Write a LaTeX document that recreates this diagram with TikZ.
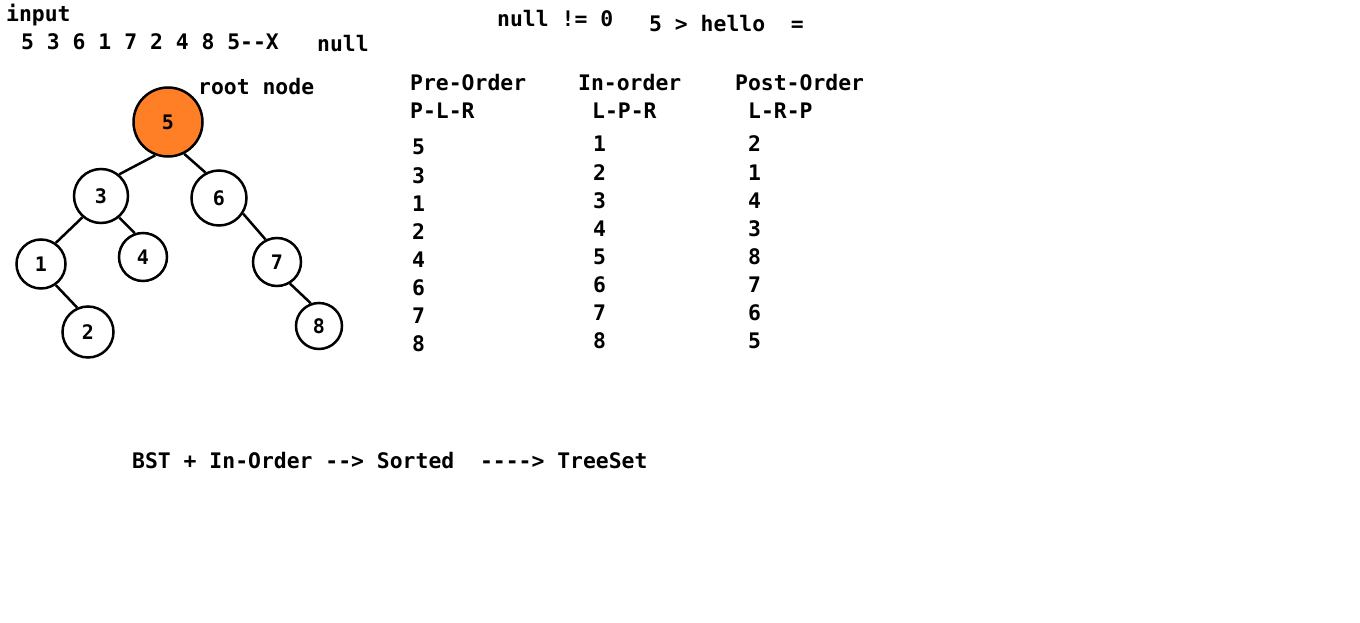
\documentclass[tikz,border=0pt]{standalone}
\usepackage{fontspec}
\setmainfont{DejaVu Sans Mono}[Ligatures=TeXOff]
\begin{document}
\begin{tikzpicture}[x=1pt,y=-1pt,
  txt/.style={anchor=base west,inner sep=0pt,font=\fontsize{21.4}{24}\selectfont\bfseries},
  tnode/.style={circle,draw=black,line width=2.5pt,fill=white,inner sep=0pt,font=\fontsize{20}{24}\selectfont\bfseries},
  rootnode/.style={tnode,fill=rootorange},
  edge/.style={line width=2.5pt,draw=black}]
\definecolor{rootorange}{RGB}{255,127,39}
\useasboundingbox (0,0) rectangle (1360,623);
% header texts
\node[txt] (input) at (6,22) {input};
\node[txt] (seq) at (21,50) {5 3 6 1 7 2 4 8 5--X};
\node[txt] (null) at (317,52) {null};
\node[txt] (neq) at (497,27) {null != 0};
\node[txt] (hello) at (649,32) {5 > hello\ \ =};
\node[txt] (rootlbl) at (198,95) {root node};
% tree
\node[rootnode,minimum size=69pt] (n5) at (168,122) {5};
\node[tnode,minimum size=54pt] (n3) at (101,196) {3};
\node[tnode,minimum size=55pt] (n6) at (219,198) {6};
\node[tnode,minimum size=49pt] (n1) at (41,264) {1};
\node[tnode,minimum size=48pt] (n4) at (143,257) {4};
\node[tnode,minimum size=48pt] (n7) at (277,262) {7};
\node[tnode,minimum size=51pt] (n2) at (88,332) {2};
\node[tnode,minimum size=46pt] (n8) at (319,326) {8};
\draw[edge] (n5.-111) -- (n3.50);
\draw[edge] (n5.-63) -- (n6.118);
\draw[edge] (n3.-131) -- (n1.55);
\draw[edge] (n3.-50) -- (n4.109);
\draw[edge] (n1.-55) -- (n2.114);
\draw[edge] (n6.-33) -- (n7.117);
\draw[edge] (n7.-59) -- (n8.110);
% traversal headers
\node[txt] (pre) at (410,91) {Pre-Order};
\node[txt] (in) at (578,91) {In-order};
\node[txt] (post) at (735,91) {Post-Order};
\node[txt] (plr) at (410,119) {P-L-R};
\node[txt] (lpr) at (592,119) {L-P-R};
\node[txt] (lrp) at (748,119) {L-R-P};
% columns
\foreach \v [count=\i from 0] in {5,3,1,2,4,6,7,8}
  \node[txt] (pre\i) at (412,155+28*\i) {\v};
\foreach \v [count=\i from 0] in {1,2,3,4,5,6,7,8}
  \node[txt] (in\i) at (593,152+28*\i) {\v};
\foreach \v [count=\i from 0] in {2,1,4,3,8,7,6,5}
  \node[txt] (post\i) at (748,152+28*\i) {\v};
% bottom line
\node[txt] (bst) at (132,468) {BST + In-Order --> Sorted\ \ ----> TreeSet};
\end{tikzpicture}
\end{document}
